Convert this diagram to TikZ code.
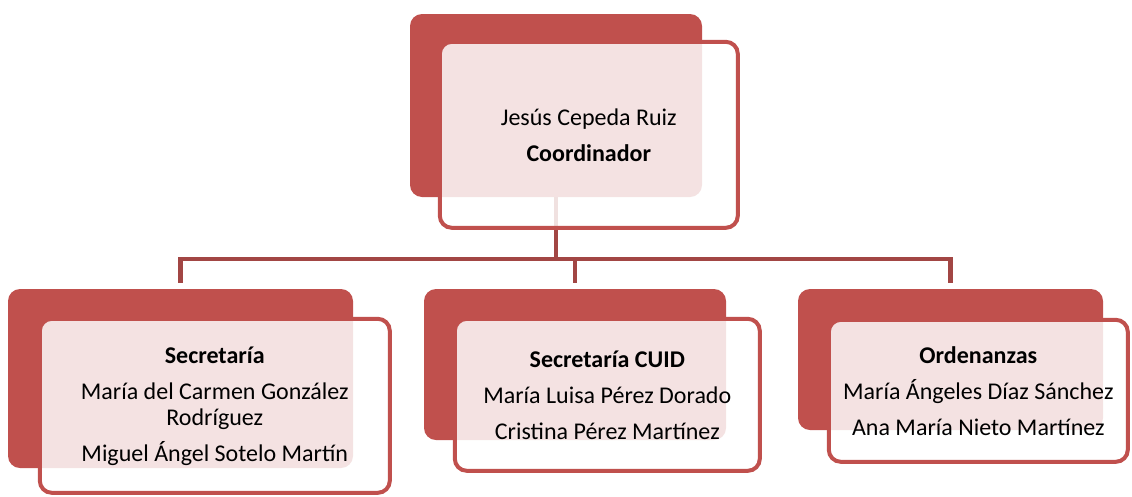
\documentclass[tikz,border=0pt]{standalone}
\usepackage{fontspec}
\setmainfont{Carlito}
\usetikzlibrary{positioning}
\definecolor{mred}{HTML}{C0504D}
\definecolor{mdark}{HTML}{A24644}
\tikzstyle{back} = [rectangle, rounded corners=12pt, inner sep=0pt, fill=mred]
\tikzstyle{front} = [rectangle, rounded corners=12pt, draw=mred, line width=4pt, fill=white, fill opacity=0.84, text opacity=1, align=center, font=\fontsize{24}{26}\selectfont]
\tikzstyle{link} = [line width=4.5pt, mdark, shorten >=6pt]

\begin{document}
\begin{tikzpicture}[x=1pt,y=-1pt]
  \useasboundingbox (0,0) rectangle (1132,496);
  \node (coordback) [back, minimum width=292pt, minimum height=183pt] at (556,105.5) {};
  \node (secback) [back, minimum width=345pt, minimum height=179pt] at (180.5,378.5) {};
  \node (cuidback) [back, minimum width=302pt, minimum height=151pt] at (575,364.5) {};
  \node (ordback) [back, minimum width=305pt, minimum height=141pt] at (950.5,359.5) {};
  \coordinate [below=62pt of coordback.south] (hub);
  \draw [link, shorten >=0pt] (coordback.south) -- (hub);
  \draw [link] (hub) -| (secback.north);
  \draw [link] (hub) -| (cuidback.north);
  \draw [link] (hub) -| (ordback.north);
  \node (coord) [front, minimum width=298pt, minimum height=186pt, below right=26pt and 28pt of coordback.north west]
    {Jesús Cepeda Ruiz\\[10pt]\textbf{Coordinador}};
  \node (sec) [front, minimum width=350pt, minimum height=174pt, below right=28pt and 30pt of secback.north west]
    {\textbf{Secretaría}\\[10pt]María del Carmen González\\Rodríguez\\[10pt]Miguel Ángel Sotelo Martín};
  \node (cuid) [front, minimum width=305pt, minimum height=152pt, below right=28pt and 29pt of cuidback.north west]
    {\textbf{Secretaría CUID}\\[10pt]María Luisa Pérez Dorado\\[10pt]Cristina Pérez Martínez};
  \node (ord) [front, minimum width=299pt, minimum height=142pt, below right=29pt and 29pt of ordback.north west]
    {\textbf{Ordenanzas}\\[10pt]María Ángeles Díaz Sánchez\\[10pt]Ana María Nieto Martínez};
\end{tikzpicture}
\end{document}
